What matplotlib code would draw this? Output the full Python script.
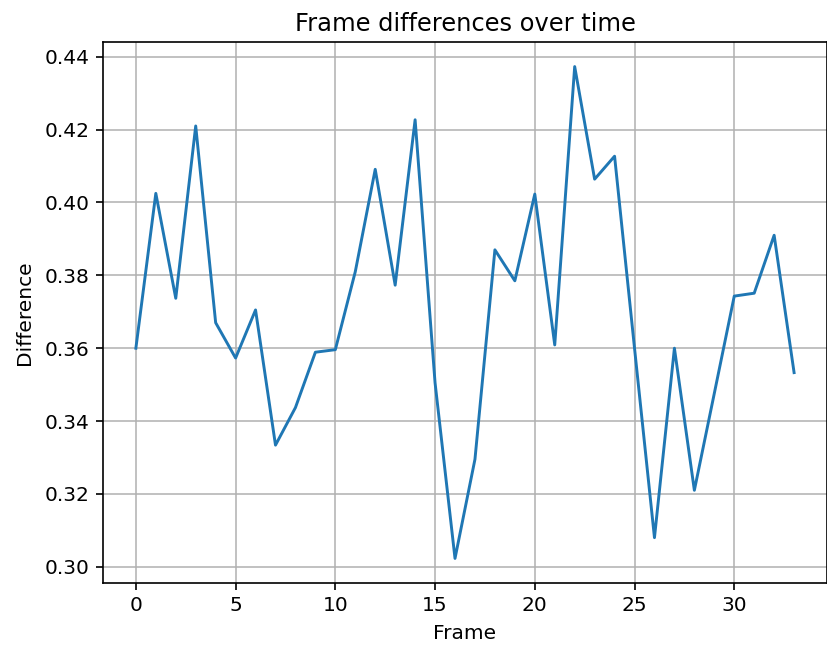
import numpy as np
from matplotlib import pyplot as plt

# Values
frames = list(range(34))
differences = [0.3600, 0.4025, 0.3737, 0.4210, 0.3670, 0.3573, 0.3705, 0.3334,
               0.3437, 0.3589, 0.3596, 0.3810, 0.4091, 0.3773, 0.4227, 0.3505,
               0.3023, 0.3295, 0.3870, 0.3785, 0.4023, 0.3609, 0.4373, 0.4064,
               0.4127, 0.3600, 0.3080, 0.3600, 0.3210, 0.3476, 0.3743, 0.3751,
               0.3910, 0.3533]

plt.rcParams['font.size'] = 14.5

fig = plt.figure(figsize=(8.27, 6.45), dpi=100)
ax = fig.add_axes([0.1245, 0.0961, 0.8755, 0.8388])

ax.plot(frames, differences, linewidth=2.1)
ax.set_title("Frame differences over time", pad=8)
ax.set_xlabel("Frame", labelpad=6)
ax.set_ylabel("Difference", labelpad=8)
ax.grid(True, linewidth=1.1)
ax.tick_params(length=5, width=1.2, pad=4.5)
for s in ax.spines.values():
    s.set_linewidth(1.2)

fig.savefig("out.png", dpi=100)
